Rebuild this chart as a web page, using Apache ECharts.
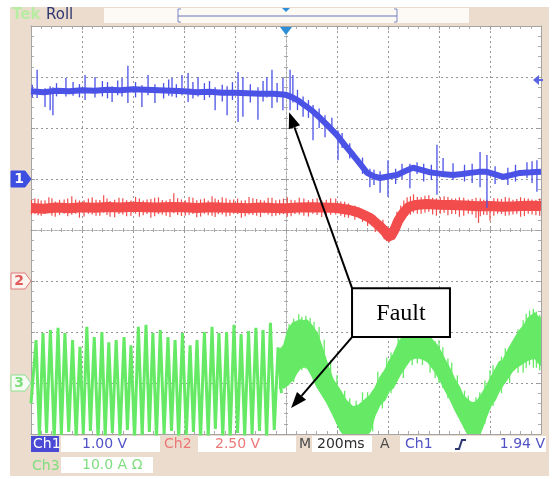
<!DOCTYPE html>
<html>
<head>
<meta charset="utf-8">
<script src="https://cdn.jsdelivr.net/npm/echarts@6/dist/echarts.min.js"></script>
<style>
  html, body { margin: 0; padding: 0; background: #ffffff; }
  #scope { width: 554px; height: 479px; }
</style>
</head>
<body>
<div id="scope"></div>
<script>
// ---- Acquisition settings (screen = 10 x 200 ms horizontally, 8 divisions vertically) ----
const timeMin = -1000, timeMax = 1000, timePerDiv = 200;   // ms, trigger at 0
const divMin = -4, divMax = 4;                                // vertical divisions
const ch1Scale = 1.0, ch2Scale = 2.5, ch3Scale = 10.0;       // V/div, V/div, A/div
const ch1Offset = 1, ch2Offset = -1, ch3Offset = -3;          // ground markers, in divisions
const ch1TriggerLevel = 1.94;                                 // V

// ---- Ch1 (blue): voltage, volts ----
const ch1Time  = [-1000, -950, -900, -850, -800, -750, -700, -650, -600, -550, -500, -450, -400, -350, -300, -250, -200, -150, -100, -50,
                  0, 25, 50, 75, 100, 133, 165, 200, 230, 263, 290, 318, 345, 369, 400, 435, 470, 498, 530, 565,
                  610, 655, 690, 722, 755, 788, 820, 851, 885, 918, 960, 1000];
const ch1Volts = [1.72, 1.70, 1.73, 1.72, 1.74, 1.73, 1.75, 1.74, 1.76, 1.75, 1.74, 1.73, 1.72, 1.70, 1.71, 1.69, 1.69, 1.68, 1.67, 1.67,
                  1.65, 1.60, 1.53, 1.44, 1.35, 1.20, 1.04, 0.86, 0.67, 0.47, 0.30, 0.12, 0.05, 0.02, 0.05, 0.08, 0.16, 0.22, 0.18, 0.13,
                  0.10, 0.08, 0.10, 0.12, 0.14, 0.14, 0.09, 0.04, 0.08, 0.12, 0.13, 0.14];
// glitches on Ch1: [time, low V, high V]
const ch1Spikes = [
  [-995, 1.60, 1.85], [-976, 1.59, 2.14], [-945, 1.41, 1.78], [-925, 1.35, 1.82], [-914, 1.25, 1.80], [-900, 1.62, 1.88],
  [-863, 1.62, 1.98], [-835, 1.63, 1.90], [-810, 1.60, 1.86], [-788, 1.55, 2.04], [-749, 1.60, 2.00], [-720, 1.62, 1.92],
  [-700, 1.58, 1.90], [-682, 1.51, 1.82], [-660, 1.64, 1.93], [-643, 1.62, 1.98], [-620, 1.49, 2.22], [-590, 1.60, 1.90],
  [-565, 1.41, 1.84], [-541, 1.64, 2.04], [-514, 1.49, 1.86], [-480, 1.58, 1.88], [-460, 1.63, 1.95], [-447, 1.62, 1.98],
  [-430, 1.60, 1.86], [-408, 1.64, 2.04], [-384, 1.51, 2.08], [-365, 1.58, 1.90], [-345, 1.62, 2.00], [-320, 1.55, 1.88],
  [-300, 1.60, 1.92], [-278, 1.35, 1.80], [-250, 1.52, 1.85], [-231, 1.25, 1.82], [-210, 1.55, 1.90], [-188, 1.12, 2.10],
  [-169, 1.22, 2.00], [-140, 1.50, 1.86], [-110, 1.16, 1.80], [-90, 1.52, 1.92], [-75, 1.60, 2.00], [-55, 1.39, 2.14],
  [-35, 1.50, 1.88], [-12, 1.35, 1.98], [16, 1.35, 2.14], [27, 1.50, 2.04], [45, 1.35, 1.75], [67, 1.22, 1.62],
  [88, 1.20, 1.55], [106, 0.76, 1.45], [130, 1.00, 1.38], [153, 0.82, 1.25], [180, 0.90, 1.20], [204, 0.37, 0.95],
  [220, 0.61, 0.90], [250, 0.40, 0.70], [300, 0.10, 0.42], [329, -0.16, 0.20], [345, -0.12, 0.18], [369, -0.27, 0.15],
  [400, -0.35, 0.37], [430, -0.10, 0.20], [455, 0.00, 0.30], [486, -0.18, 0.30], [514, 0.10, 0.33], [540, -0.05, 0.30],
  [570, -0.02, 0.28], [592, -0.31, 0.67], [616, 0.05, 0.41], [655, -0.02, 0.31], [700, -0.05, 0.28], [730, -0.08, 0.30],
  [761, -0.16, 0.53], [788, -0.57, 0.47], [820, -0.10, 0.25], [870, -0.12, 0.22], [900, -0.05, 0.28], [945, 0.02, 0.33],
  [965, -0.08, 0.35], [984, -0.25, 0.37]
];

// ---- Ch2 (red): voltage, volts ----
const ch2Time  = [-1000, -950, -900, -850, -800, -750, -700, -650, -600, -550, -500, -450, -400, -350, -300, -250, -200, -150, -100, -50,
                  0, 50, 100, 150, 200, 250, 280, 330, 370, 390, 400, 410, 425, 440, 460, 480, 510, 550,
                  600, 650, 700, 750, 800, 850, 900, 950, 1000];
const ch2Volts = [3.58, 3.54, 3.60, 3.57, 3.62, 3.59, 3.63, 3.60, 3.64, 3.62, 3.60, 3.63, 3.61, 3.58, 3.62, 3.60, 3.59, 3.57, 3.60, 3.58,
                  3.57, 3.60, 3.62, 3.60, 3.58, 3.48, 3.38, 3.09, 2.66, 2.40, 2.20, 2.17, 2.50, 2.95, 3.33, 3.62, 3.73, 3.77,
                  3.74, 3.72, 3.70, 3.66, 3.68, 3.64, 3.66, 3.69, 3.68];
const ch2Spikes = [
  [-998, 3.25, 3.98], [-985, 3.30, 4.05], [-972, 3.22, 4.02], [-960, 3.20, 3.95], [-945, 3.28, 3.96], [-930, 3.35, 4.10],
  [-918, 3.20, 4.06], [-905, 3.15, 3.90], [-888, 3.24, 3.98], [-870, 3.30, 4.00], [-856, 3.18, 4.04], [-840, 3.25, 4.15],
  [-825, 3.30, 4.00], [-810, 3.10, 3.95], [-792, 3.16, 3.96], [-775, 3.30, 4.05], [-760, 3.26, 4.10], [-745, 3.20, 3.98],
  [-730, 3.20, 3.97], [-715, 3.35, 4.20], [-702, 3.24, 4.04], [-690, 3.15, 3.92], [-672, 3.12, 3.98], [-655, 3.28, 4.08],
  [-640, 3.26, 4.06], [-625, 3.18, 3.96], [-608, 3.20, 3.95], [-590, 3.30, 4.12], [-575, 3.15, 4.04], [-560, 3.22, 3.95],
  [-545, 3.28, 4.00], [-530, 3.10, 4.02], [-515, 3.18, 4.08], [-500, 3.28, 4.10], [-485, 3.26, 3.97], [-470, 3.20, 3.94],
  [-455, 3.14, 4.02], [-440, 3.32, 4.30], [-425, 3.24, 4.06], [-410, 3.18, 4.00], [-395, 3.20, 3.96], [-380, 3.25, 4.12],
  [-365, 3.28, 4.08], [-350, 3.12, 3.96], [-335, 3.16, 4.00], [-320, 3.30, 4.05], [-305, 3.22, 3.95], [-290, 3.20, 4.15],
  [-278, 3.14, 4.04], [-265, 3.28, 3.98], [-250, 3.26, 4.10], [-235, 3.16, 4.06], [-220, 3.20, 3.98], [-205, 3.30, 4.00],
  [-190, 3.28, 4.04], [-175, 3.10, 3.95], [-160, 3.18, 3.96], [-145, 3.26, 4.12], [-130, 3.24, 4.06], [-115, 3.20, 4.02],
  [-100, 3.14, 3.98], [-85, 3.32, 3.95], [-70, 3.26, 4.08], [-55, 3.18, 4.08], [-40, 3.20, 3.96], [-25, 3.25, 4.00],
  [-10, 3.28, 4.04], [5, 3.15, 4.10], [20, 3.18, 3.98], [35, 3.28, 3.96], [52, 3.26, 4.08], [70, 3.20, 4.05],
  [88, 3.16, 3.96], [105, 3.30, 4.02], [122, 3.24, 4.06], [140, 3.14, 3.95], [158, 3.20, 3.98], [175, 3.25, 4.06],
  [195, 3.26, 4.04], [215, 3.20, 3.90], [230, 3.12, 3.88], [245, 3.10, 3.80], [270, 3.00, 3.70], [300, 2.90, 3.50],
  [320, 2.70, 3.40], [350, 2.40, 3.20], [380, 2.20, 3.00], [395, 1.95, 2.70], [405, 1.90, 2.60], [420, 2.10, 2.90],
  [435, 2.60, 3.40], [450, 2.85, 3.70], [462, 3.10, 3.95], [475, 3.20, 4.10], [488, 3.25, 4.15], [500, 3.35, 4.25],
  [515, 3.30, 4.12], [530, 3.30, 4.10], [545, 3.35, 4.18], [560, 3.40, 4.20], [575, 3.26, 4.08], [590, 3.20, 4.05],
  [605, 3.30, 4.10], [620, 3.35, 4.15], [635, 3.22, 4.12], [650, 3.28, 4.05], [665, 3.28, 4.05], [680, 3.15, 4.10],
  [697, 3.20, 4.08], [715, 3.30, 4.00], [730, 3.26, 4.02], [745, 3.10, 4.08], [755, 2.85, 3.90], [762, 3.18, 4.06],
  [775, 3.25, 3.98], [788, 3.24, 3.98], [800, 2.95, 3.90], [815, 3.20, 4.06], [830, 3.30, 4.05], [845, 3.28, 4.02],
  [860, 3.20, 4.12], [875, 3.22, 4.08], [890, 3.26, 3.98], [905, 3.30, 4.02], [920, 3.15, 4.10], [935, 3.18, 4.06],
  [950, 3.30, 4.05], [965, 3.26, 4.00], [980, 3.22, 3.98], [995, 3.20, 4.04]
];

// ---- Ch3 (green): current, amperes ----
// before the fault: fast oscillation, [time, A] at successive peaks and troughs
const ch3Burst = [
  [-1000, -4.0], [-980, 8.4], [-967, -10.5], [-953, 9.8], [-939, -9.8], [-924, 10.4], [-909, -11.0], [-894, 10.8],
  [-881, -10.2], [-867, 9.8], [-852, -9.6], [-837, 8.4], [-823, -10.8], [-808, 7.1], [-795, -10.0], [-781, 11.0],
  [-767, -9.4], [-752, 9.0], [-737, -11.0], [-722, 10.0], [-709, -10.4], [-695, 8.0], [-681, -9.8], [-666, 8.4],
  [-651, -10.6], [-635, 9.0], [-622, -9.2], [-608, 7.4], [-594, -11.0], [-579, 11.0], [-564, -10.2], [-549, 11.4],
  [-536, -9.6], [-522, 9.8], [-508, -10.8], [-493, 10.4], [-478, -10.0], [-463, 9.0], [-449, -9.4], [-435, 8.4],
  [-421, -11.0], [-406, 9.8], [-391, -10.2], [-376, 7.4], [-363, -9.6], [-349, 8.4], [-335, -10.8], [-320, 10.0],
  [-305, -10.4], [-290, 11.0], [-277, -9.0], [-263, 9.8], [-248, -10.6], [-233, 10.0], [-219, -11.0], [-204, 11.4],
  [-190, -9.8], [-176, 9.6], [-162, -10.4], [-147, 10.2], [-133, -10.0], [-118, 10.8], [-104, -9.4], [-90, 10.4],
  [-76, -10.8], [-61, 11.8], [-46, -9.2], [-31, 7.0], [-18, -2.0]
];
// after the fault: slow noisy wave, [time, upper A, lower A]
const ch3Wave = [
  [-25, 6.5, -1.0], [-15, 7.0, -0.8], [-8, 7.45, -0.98], [0, 9.0, -0.6], [8, 10.4, -0.39], [18, 11.2, 0.2], [27, 11.8, 0.6],
  [40, 12.0, 1.8], [55, 12.35, 2.9], [70, 12.2, 3.2], [82, 12.35, 3.1], [100, 11.4, 1.6], [122, 9.8, -0.8], [140, 7.2, -2.2],
  [161, 3.9, -3.9], [185, 0.6, -6.3], [212, -1.4, -9.2], [237, -3.5, -10.8], [263, -4.7, -11.2], [287, -4.3, -11.0],
  [310, -3.3, -10.6], [330, -2.4, -9.5], [349, -1.0, -6.3], [368, 1.0, -4.3], [388, 2.5, -3.3], [405, 4.3, -1.5],
  [420, 5.5, -1.0], [447, 8.4, 1.6], [470, 9.6, 3.3], [486, 10.4, 4.5], [505, 10.8, 4.9], [525, 10.8, 4.9], [545, 10.2, 4.5],
  [557, 9.4, 4.1], [575, 8.4, 2.9], [592, 7.4, 1.6], [608, 6.1, 0.2], [624, 4.5, -1.4], [645, 2.6, -3.3], [663, 0.6, -5.3],
  [680, -0.8, -6.9], [694, -2.4, -8.2], [708, -3.1, -9.6], [722, -3.7, -10.8], [738, -3.9, -11.2], [753, -3.3, -10.8],
  [770, -2.0, -8.8], [788, -0.4, -6.3], [805, 1.2, -4.3], [820, 2.6, -3.3], [836, 4.1, -1.6], [851, 4.5, -0.4],
  [868, 6.2, 0.8], [886, 7.8, 2.2], [902, 9.2, 3.0], [918, 10.4, 3.5], [935, 11.4, 4.1], [949, 12.7, 4.5], [962, 13.2, 4.7],
  [976, 13.7, 4.9], [988, 13.0, 4.0], [1000, 12.7, 3.5]
];
const ch3Spikes = [
  [12, 0.0, 11.5], [30, 0.2, 12.6], [50, 8.0, 13.5], [62, 2.5, 13.0], [78, 2.8, 13.2], [95, 6.0, 12.8], [110, 0.5, 12.0],
  [130, 4.0, 11.0], [150, -3.0, 8.5], [175, -3.0, 4.5], [200, -8.0, 1.5], [230, -8.0, -1.5], [250, -11.0, -3.0],
  [275, -11.0, -3.5], [300, -9.0, -1.8], [320, -10.5, -1.8], [340, -9.5, -1.5], [360, -5.0, 2.2], [378, -5.0, 2.0],
  [395, -2.0, 5.0], [412, -2.0, 6.0], [440, 3.0, 9.2], [460, 1.0, 9.8], [495, 3.5, 11.5], [515, 3.8, 11.4],
  [535, 3.5, 11.0], [565, 2.0, 9.8], [585, 1.0, 8.2], [600, 0.0, 8.4], [615, -1.0, 7.0], [635, -3.0, 4.8],
  [650, -4.0, 4.0], [672, -6.0, 1.5], [700, -8.0, -1.5], [715, -10.5, -2.5], [745, -11.0, -2.8], [760, -9.0, -1.8],
  [780, -8.0, 0.5], [800, -5.0, 2.5], [812, -4.5, 3.5], [845, -2.0, 5.2], [860, 0.0, 6.8], [877, 0.0, 7.2],
  [910, 2.0, 10.5], [930, 2.0, 12.3], [942, 3.0, 13.6], [955, 3.5, 14.2], [970, 3.0, 14.5], [982, 3.0, 14.0], [995, 2.5, 13.4]
];

// ---- Readouts ----
const readCh1 = 'Ch1', readCh1Scale = '1.00 V';
const readCh2 = 'Ch2', readCh2Scale = '2.50 V';
const readTime = '200ms', readTrigSrc = 'Ch1', readTrigLevel = '1.94 V';
const readCh3 = 'Ch3', readCh3Scale = '10.0 A \u03A9';
const faultLabel = 'Fault';

// ---- colours ----
const cBlue = '#4b52e6', cRed = '#f24c4c', cGreen = '#66ea66';
const cCh1Text = '#5252c6', cCh2Text = '#ec7878', cCh3Text = '#7ede7e';
const beige = '#ecdccd';

const toDiv1 = v => ch1Offset + v / ch1Scale;
const toDiv2 = v => ch2Offset + v / ch2Scale;
const toDiv3 = v => ch3Offset + v / ch3Scale;

const chart = echarts.init(document.getElementById('scope'), null, { renderer: 'canvas' });

const edgeColor = '#a4a4a4';

function axisBase(min, max, interval) {
  return {
    type: 'value', min, max, interval,
    axisLabel: { show: false }, splitLine: { show: false },
    axisTick: { show: false }, minorTick: { show: false }, axisLine: { show: false }
  };
}
function edgeAxis(min, max, interval, position) {
  return Object.assign(axisBase(min, max, interval), {
    position,
    axisLine: { show: true, onZero: false, lineStyle: { color: edgeColor, width: 1 } },
    axisTick: { show: true, inside: true, length: 4, lineStyle: { color: edgeColor } },
    minorTick: { show: true, splitNumber: 5, length: 3, lineStyle: { color: '#acacac' } }
  });
}
function centreAxis(min, max, interval, position, inside) {
  return Object.assign(axisBase(min, max, interval), {
    position,
    axisLine: { show: true, onZero: true, onZeroAxisIndex: 0, lineStyle: { color: '#a8a8a8', width: 1, type: [2, 2] } },
    axisTick: { show: true, inside, length: 3, lineStyle: { color: '#a0a0a0' } },
    minorTick: { show: true, splitNumber: 5, length: 2, lineStyle: { color: '#aaaaaa' } }
  });
}

function spikeSeries(pts, toDiv, color, width, z) {
  return {
    type: 'custom', xAxisIndex: 0, yAxisIndex: 0, z, clip: true, silent: true, animation: false,
    data: pts.map(p => [p[0], toDiv(p[1]), toDiv(p[2])]),
    encode: { x: 0, y: [1, 2] },
    renderItem(params, api) {
      const a = api.coord([api.value(0), api.value(1)]);
      const b = api.coord([api.value(0), api.value(2)]);
      return { type: 'line', shape: { x1: a[0], y1: a[1], x2: b[0], y2: b[1] }, style: { stroke: color, lineWidth: width } };
    }
  };
}

// dotted graticule lines at each interior division: [0, time] vertical, [1, div] horizontal
const graticuleLines = [];
for (let t = timeMin + timePerDiv; t < timeMax; t += timePerDiv) if (t !== 0) graticuleLines.push([0, t]);
for (let d = divMin + 1; d < divMax; d++) if (d !== 0) graticuleLines.push([1, d]);

const option = {
  backgroundColor: 'transparent',
  animation: false,
  grid: { left: 31, top: 26, width: 510, height: 408, show: false, containLabel: false, outerBoundsMode: 'none' },
  xAxis: [
    edgeAxis(timeMin, timeMax, timePerDiv, 'bottom'),
    edgeAxis(timeMin, timeMax, timePerDiv, 'top'),
    centreAxis(timeMin, timeMax, timePerDiv, 'bottom', false),
    centreAxis(timeMin, timeMax, timePerDiv, 'bottom', true)
  ],
  yAxis: [
    edgeAxis(divMin, divMax, 1, 'left'),
    edgeAxis(divMin, divMax, 1, 'right'),
    centreAxis(divMin, divMax, 1, 'left', false),
    centreAxis(divMin, divMax, 1, 'left', true)
  ],
  series: [
    // graticule
    {
      type: 'custom', xAxisIndex: 0, yAxisIndex: 0, z: 1, clip: false, silent: true, animation: false,
      data: graticuleLines,
      renderItem(params, api) {
        const kind = api.value(0), v = api.value(1);
        const a = kind === 0 ? api.coord([v, divMax]) : api.coord([timeMin, v]);
        const b = kind === 0 ? api.coord([v, divMin]) : api.coord([timeMax, v]);
        const cx = kind === 0 ? Math.round(a[0]) + 0.5 : null;
        const cy = kind === 1 ? Math.round(a[1]) + 0.5 : null;
        return {
          type: 'line',
          shape: kind === 0 ? { x1: cx, y1: a[1], x2: cx, y2: b[1] } : { x1: a[0], y1: cy, x2: b[0], y2: cy },
          style: { stroke: '#969696', lineWidth: 1, lineDash: [2, 3] }
        };
      }
    },
    // Ch3 after the fault: noisy band
    {
      type: 'custom', xAxisIndex: 0, yAxisIndex: 0, z: 3, clip: true, silent: true, animation: false,
      data: [[0, 0]],
      renderItem(params, api) {
        const pts = [];
        ch3Wave.forEach(p => pts.push(api.coord([p[0], toDiv3(p[1])])));
        for (let i = ch3Wave.length - 1; i >= 0; i--) pts.push(api.coord([ch3Wave[i][0], toDiv3(ch3Wave[i][2])]));
        return { type: 'polygon', shape: { points: pts }, style: { fill: cGreen, stroke: cGreen, lineWidth: 1.5 } };
      }
    },
    spikeSeries(ch3Spikes, toDiv3, cGreen, 1.3, 3),
    // Ch3 before the fault
    {
      type: 'line', xAxisIndex: 0, yAxisIndex: 0, z: 3, clip: true, silent: true, showSymbol: false, symbol: 'none',
      data: ch3Burst.map(p => [p[0], toDiv3(p[1])]),
      lineStyle: { color: cGreen, width: 3 }
    },
    // Ch2
    {
      type: 'line', xAxisIndex: 0, yAxisIndex: 0, z: 4, clip: true, silent: true, showSymbol: false, symbol: 'none',
      data: ch2Time.map((t, i) => [t, toDiv2(ch2Volts[i])]),
      lineStyle: { color: cRed, width: 10 }
    },
    spikeSeries(ch2Spikes, toDiv2, cRed, 1.2, 4),
    // Ch1
    {
      type: 'line', xAxisIndex: 0, yAxisIndex: 0, z: 5, clip: true, silent: true, showSymbol: false, symbol: 'none',
      data: ch1Time.map((t, i) => [t, toDiv1(ch1Volts[i])]),
      lineStyle: { color: cBlue, width: 6 }
    },
    spikeSeries(ch1Spikes, toDiv1, cBlue, 1.3, 5)
  ]
};
chart.setOption(option);

// ---- Screen furniture: markers, readouts, annotation ----
const px = (t, d) => chart.convertToPixel({ xAxisIndex: 0, yAxisIndex: 0 }, [t, d]);

const trigX = px(0, 0)[0];
const gTop = px(0, divMax)[1];
const trigY = px(0, toDiv1(ch1TriggerLevel))[1];
const gRight = px(timeMax, 0)[0];
const plotTL = px(timeMin, divMax), plotBR = px(timeMax, divMin);

function channelMarker(label, div, fill, stroke, textColor) {
  const y = px(0, div)[1];
  const x0 = 11;
  return [
    { type: 'polygon', z: 20, shape: { points: [[x0, y - 8], [x0 + 14, y - 8], [x0 + 20, y], [x0 + 14, y + 8], [x0, y + 8]] },
      style: { fill, stroke, lineWidth: 1 } },
    { type: 'text', z: 21, x: x0 + 8, y, style: { text: label, fill: textColor, font: 'bold 14px "DejaVu Sans"', align: 'center', verticalAlign: 'middle' } }
  ];
}

function arrow(from, to, z) {
  const dx = to[0] - from[0], dy = to[1] - from[1];
  const len = Math.hypot(dx, dy), ux = dx / len, uy = dy / len;
  const hl = 16, hw = 6;
  const bx = to[0] - ux * hl, by = to[1] - uy * hl;
  return [
    { type: 'line', z, shape: { x1: from[0], y1: from[1], x2: bx, y2: by }, style: { stroke: '#000', lineWidth: 2 } },
    { type: 'polygon', z, shape: { points: [to, [bx - uy * hw, by + ux * hw], [bx + uy * hw, by - ux * hw]] }, style: { fill: '#000' } }
  ];
}

// annotation anchors (ms, div)
const tip1 = px(12, 2.31), tip2 = px(20, -3.49);
const boxTL = px(259, -1.14), boxBR = px(643, -2.10);

const textFont = '14px "DejaVu Sans"';
const graphics = [
  // instrument bezel and screen
  { type: 'rect', z: -10, shape: { x: 10, y: 7, width: 539, height: 469 }, style: { fill: beige } },
  { type: 'rect', z: -5, shape: { x: plotTL[0], y: plotTL[1], width: plotBR[0] - plotTL[0], height: plotBR[1] - plotTL[1] }, style: { fill: '#ffffff' } },
  { type: 'text', z: 5, x: 12, y: 15, style: { text: 'Tek', fill: '#b8eca2', font: 'bold 15px "DejaVu Sans"', verticalAlign: 'middle' } },
  { type: 'text', z: 5, x: 46, y: 15, style: { text: 'Roll', fill: '#2c3670', font: '15px "DejaVu Sans"', verticalAlign: 'middle' } },
  { type: 'rect', z: 5, shape: { x: 104, y: 8, width: 365, height: 15 }, style: { fill: '#fdfaf6' } },
  { type: 'polyline', z: 6, shape: { points: [[181, 9], [178, 9], [178, 22], [181, 22]] }, style: { stroke: '#7a86c4', lineWidth: 1, fill: null } },
  { type: 'polyline', z: 6, shape: { points: [[394, 9], [397, 9], [397, 22], [394, 22]] }, style: { stroke: '#7a86c4', lineWidth: 1, fill: null } },
  { type: 'line', z: 6, shape: { x1: 178, y1: 16, x2: 397, y2: 16 }, style: { stroke: '#6a74b8', lineWidth: 1 } },
  { type: 'polygon', z: 7, shape: { points: [[trigX - 4, 8], [trigX + 4, 8], [trigX, 12]] }, style: { fill: '#2e8fd8' } },
  // trigger position and level
  { type: 'polygon', z: 20, shape: { points: [[trigX - 6, gTop + 1], [trigX + 6, gTop + 1], [trigX, gTop + 9]] }, style: { fill: '#2e8fd8' } },
  { type: 'polygon', z: 20, shape: { points: [[gRight - 8, trigY], [gRight - 2, trigY - 5], [gRight - 2, trigY + 5]] }, style: { fill: '#5a64e0' } },
  { type: 'line', z: 20, shape: { x1: gRight - 4, y1: trigY, x2: gRight + 2, y2: trigY }, style: { stroke: '#5a64e0', lineWidth: 2 } },
  ...channelMarker('1', ch1Offset, '#3d4fe0', '#3d4fe0', '#ffffff'),
  ...channelMarker('2', ch2Offset, '#fbf3ee', '#e07a7a', '#e05a5a'),
  ...channelMarker('3', ch3Offset, '#f6fbf4', '#8ee08e', '#7ede7e'),
  // readouts row 1
  { type: 'rect', z: 5, shape: { x: 31, y: 436, width: 28, height: 16 }, style: { fill: '#4a4ad4' } },
  { type: 'text', z: 6, x: 33, y: 444, style: { text: readCh1, fill: '#ffffff', font: textFont, verticalAlign: 'middle' } },
  { type: 'rect', z: 5, shape: { x: 61, y: 436, width: 99, height: 16 }, style: { fill: '#ffffff' } },
  { type: 'text', z: 6, x: 82, y: 444, style: { text: readCh1Scale, fill: cCh1Text, font: textFont, verticalAlign: 'middle' } },
  { type: 'text', z: 6, x: 164, y: 444, style: { text: readCh2, fill: cCh2Text, font: textFont, verticalAlign: 'middle' } },
  { type: 'rect', z: 5, shape: { x: 198, y: 436, width: 98, height: 16 }, style: { fill: '#ffffff' } },
  { type: 'text', z: 6, x: 215, y: 444, style: { text: readCh2Scale, fill: cCh2Text, font: textFont, verticalAlign: 'middle' } },
  { type: 'text', z: 6, x: 299, y: 444, style: { text: 'M', fill: '#4a4a4a', font: textFont, verticalAlign: 'middle' } },
  { type: 'rect', z: 5, shape: { x: 312, y: 436, width: 60, height: 16 }, style: { fill: '#ffffff' } },
  { type: 'text', z: 6, x: 317, y: 444, style: { text: readTime, fill: '#2e2e2e', font: textFont, verticalAlign: 'middle' } },
  { type: 'text', z: 6, x: 380, y: 444, style: { text: 'A', fill: '#4a4a4a', font: textFont, verticalAlign: 'middle' } },
  { type: 'rect', z: 5, shape: { x: 400, y: 436, width: 146, height: 16 }, style: { fill: '#ffffff' } },
  { type: 'text', z: 6, x: 405, y: 444, style: { text: readTrigSrc, fill: cCh1Text, font: textFont, verticalAlign: 'middle' } },
  { type: 'polyline', z: 6, shape: { points: [[455, 449], [459, 449], [462, 440], [466, 440]] }, style: { stroke: '#2c3670', lineWidth: 2, fill: null } },
  { type: 'text', z: 6, x: 545, y: 444, style: { text: readTrigLevel, fill: cCh1Text, font: textFont, align: 'right', verticalAlign: 'middle' } },
  // readouts row 2
  { type: 'text', z: 6, x: 32, y: 466, style: { text: readCh3, fill: cCh3Text, font: textFont, verticalAlign: 'middle' } },
  { type: 'rect', z: 5, shape: { x: 61, y: 457, width: 92, height: 16 }, style: { fill: '#ffffff' } },
  { type: 'text', z: 6, x: 82, y: 465, style: { text: readCh3Scale, fill: cCh3Text, font: textFont, verticalAlign: 'middle' } },
  // annotation
  ...arrow([boxTL[0], boxTL[1]], tip1, 100),
  ...arrow([boxTL[0], boxBR[1]], tip2, 100),
  { type: 'rect', z: 101, shape: { x: boxTL[0], y: boxTL[1], width: boxBR[0] - boxTL[0], height: boxBR[1] - boxTL[1] },
    style: { fill: '#ffffff', stroke: '#000000', lineWidth: 2 } },
  { type: 'text', z: 102, x: (boxTL[0] + boxBR[0]) / 2, y: (boxTL[1] + boxBR[1]) / 2 + 1,
    style: { text: faultLabel, fill: '#000000', font: '24px "Liberation Serif"', align: 'center', verticalAlign: 'middle' } }
];

chart.setOption({ graphic: { elements: graphics } });
</script>
</body>
</html>
